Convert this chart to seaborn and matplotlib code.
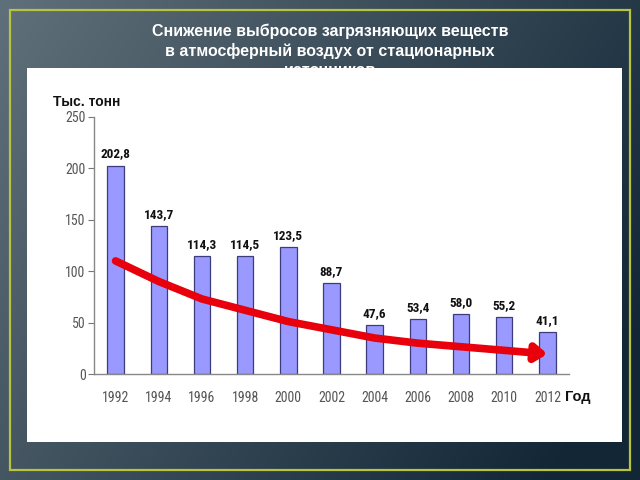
import numpy as np
import pandas as pd
import matplotlib
matplotlib.use("Agg")
import matplotlib.pyplot as plt
import seaborn as sns
from matplotlib import font_manager
from matplotlib.patches import FancyArrowPatch, Rectangle
from matplotlib.path import Path

years = ["1992", "1994", "1996", "1998", "2000", "2002", "2004", "2006", "2008", "2010", "2012"]
emissions = [202.8, 143.7, 114.3, 114.5, 123.5, 88.7, 47.6, 53.4, 58.0, 55.2, 41.1]
trend = [110, 90, 73, 62, 51, 43, 35, 30, 26.5, 23, 19.5]
yticks = [0, 50, 100, 150, 200, 250]
title = "Снижение выбросов загрязняющих веществ\nв атмосферный воздух от стационарных\nисточников"
ylabel = "Тыс. тонн"
xlabel = "Год"

sns.set_theme(style="white")
plt.rcParams["font.family"] = ["Liberation Sans", "DejaVu Sans"]

# pick a narrow font if one is installed
names = sorted({f.name for f in font_manager.fontManager.ttflist})
narrow_name = None
for pref in ["Liberation Sans Narrow", "DejaVu Sans Condensed", "Roboto Condensed",
             "Open Sans Condensed"]:
    if pref in names:
        narrow_name = pref
        break
if narrow_name is None:
    cand = [n for n in names if "Narrow" in n or "Condensed" in n]
    narrow_name = cand[0] if cand else None
narrow = ([narrow_name] if narrow_name else []) + ["Liberation Sans", "DejaVu Sans"]
stretch = "normal"
if narrow_name is None:
    for f in font_manager.fontManager.ttflist:
        if f.name in ("DejaVu Sans", "Roboto", "Open Sans") and f.stretch in ("condensed", "semi-condensed", 300, 400):
            narrow = [f.name, "Liberation Sans"]
            stretch = "condensed"
            break

fig = plt.figure(figsize=(6.4, 4.8), dpi=100)

# background gradient
bg = fig.add_axes([0, 0, 1, 1], zorder=-2)
bg.set_axis_off()
gx, gy = np.meshgrid(np.linspace(0, 1, 200), np.linspace(0, 1, 200))
t = np.clip(0.75 * gx + 0.35 * gy, 0, 1)
c0 = np.array([96, 112, 122]) / 255
c1 = np.array([18, 38, 54]) / 255
img = c0[None, None, :] * (1 - t[..., None]) + c1[None, None, :] * t[..., None]
bg.imshow(img, extent=[0, 1, 0, 1], aspect="auto", origin="upper")
bg.set_xlim(0, 1); bg.set_ylim(0, 1)
bg.add_patch(Rectangle((10 / 640, 1 - 470 / 480), 620 / 640, 460 / 480,
                       fill=False, edgecolor="#b8c440", linewidth=1.6))
bg.text(330 / 640, 1 - 24 / 480, title, ha="center", va="top", color="white",
        fontsize=11.5, fontweight="bold", linespacing=1.3)

# white panel
panel = fig.add_axes([27 / 640, 1 - 442 / 480, 595 / 640, 374 / 480], zorder=-1)
panel.set_facecolor("white")
panel.set_xticks([]); panel.set_yticks([])
for s in panel.spines.values():
    s.set_visible(False)

# chart
ax = fig.add_axes([94 / 640, 1 - 374 / 480, 475 / 640, 257 / 480], zorder=1)
ax.patch.set_alpha(0)
df = pd.DataFrame({"year": years, "value": emissions})
sns.barplot(data=df, x="year", y="value", ax=ax, color="#9999FF", saturation=1,
            width=0.38, edgecolor="#3c3c7c", linewidth=0.9)
ax.set_xlim(-0.5, len(years) - 0.5)
ax.set_ylim(0, 250)
ax.set_yticks(yticks)
ax.set_yticklabels([str(v) for v in yticks], family=narrow, stretch=stretch,
                   fontsize=10, color="#555555")
ax.set_xticks(range(len(years)))
ax.set_xticklabels(years, family=narrow, stretch=stretch, fontsize=10, color="#555555")
ax.set_xticks(np.arange(len(years) + 1) - 0.5, minor=True)
ax.tick_params(axis="x", which="major", length=0, pad=12)
ax.tick_params(axis="x", which="minor", length=5, width=0.8, color="#777777", direction="out")
ax.tick_params(axis="y", length=4, width=0.8, color="#777777", direction="out", pad=2, left=True)
for s in ["top", "right"]:
    ax.spines[s].set_visible(False)
for s in ["left", "bottom"]:
    ax.spines[s].set_color("#888888")
    ax.spines[s].set_linewidth(1.0)
ax.set_xlabel(""); ax.set_ylabel("")

for i, v in enumerate(emissions):
    ax.text(i, v + 5, f"{v:.1f}".replace(".", ","), ha="center", va="bottom",
            family=narrow, stretch=stretch, fontsize=9.5, fontweight="semibold", color="#111111")

verts = list(zip(range(len(trend)), trend))
arrow = FancyArrowPatch(path=Path(verts), arrowstyle="-|>,head_length=0.55,head_width=0.4",
                        color="#e8000c", linewidth=5.5, mutation_scale=12,
                        joinstyle="round", capstyle="round", zorder=3)
ax.add_patch(arrow)

fig.text(53 / 640, 1 - 102 / 480, ylabel, ha="left", va="center", fontsize=10,
         fontweight="bold", color="#111111")
fig.text(565 / 640, 1 - 397 / 480, xlabel, ha="left", va="center", fontsize=10.5,
         fontweight="bold", color="#111111")

fig.savefig("out.png", dpi=100)
